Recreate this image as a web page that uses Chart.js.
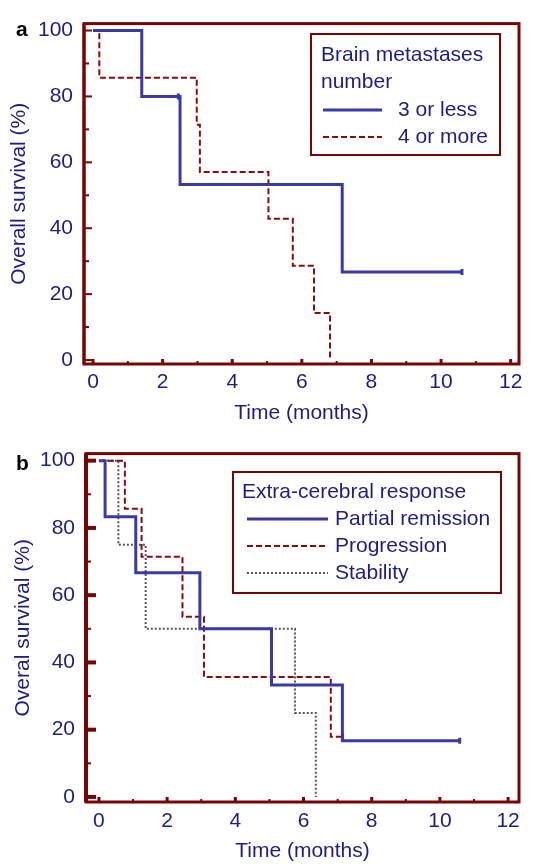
<!DOCTYPE html>
<html>
<head>
<meta charset="utf-8">
<script src="https://cdn.jsdelivr.net/npm/chart.js@4"></script>
<style>
  body { margin: 0; background: #fff; }
  .panel { position: absolute; left: 0; width: 545px; }
  #wrapA { top: 0; height: 430px; }
  #wrapB { top: 430px; height: 434px; }
  .tag { position: absolute; font: bold 21px "Liberation Sans", Arial, sans-serif; color: #000; }
</style>
</head>
<body>
<div class="panel" id="wrapA"><canvas id="chartA" width="545" height="430"></canvas></div>
<div class="panel" id="wrapB"><canvas id="chartB" width="545" height="434"></canvas></div>
<div class="tag" style="left:16px; top:17px;">a</div>
<div class="tag" style="left:16px; top:451px;">b</div>
<script>
// Panel a - brain metastases number
const timeA_low = [0, 1.4, 2.5, 7.16, 10.6];
const survA_low = [100, 80, 53.3, 26.7, 26.7];
const censorA_low = [[2.45, 80], [10.6, 26.7]];
const timeA_high = [0, 0.18, 2.98, 3.07, 5.04, 5.74, 6.35, 6.81];
const survA_high = [100, 85.7, 71.4, 57.1, 42.9, 28.6, 14.3, 0];

// Panel b - extra-cerebral response
const timeB_partial = [0, 0.18, 1.08, 2.96, 5.06, 7.14, 10.58];
const survB_partial = [100, 83.3, 66.7, 50, 33.3, 16.7, 16.7];
const censorB_partial = [[10.58, 16.7]];
const timeB_prog = [0, 0.76, 1.25, 2.45, 3.08, 6.8, 7.16];
const survB_prog = [100, 85.7, 71.4, 53.6, 35.7, 17.9, 17.9];
const censorB_prog = [[7.16, 17.9]];
const timeB_stab = [0, 0.57, 1.37, 5.75, 6.36];
const survB_stab = [100, 75, 50, 25, 0];

// axis ticks
const xTicks = [0, 2, 4, 6, 8, 10, 12];
const xMinor = [1, 3, 5, 7, 9, 11];
const yTicks = [0, 20, 40, 60, 80, 100];
const yMinor = [10, 30, 50, 70, 90];

const FONT = '"Liberation Sans", Arial, sans-serif';
const frameColor = '#760606';
const textBlue = '#1c1c8a';
const lineBlue = '#3a3aa6';
const lineRed = '#880c0c';
const lineGray = '#555555';

const pts = (t, s) => t.map((x, i) => ({ x: x, y: s[i] }));
const cpts = (c) => c.map(p => ({ x: p[0], y: p[1] }));

function kmLine(label, t, s, color, width, dash) {
    return {
        label: label, data: pts(t, s), stepped: 'before',
        borderColor: color, borderWidth: width, borderDash: dash,
        pointRadius: 0, fill: false
    };
}
function censor(c, color, width) {
    return {
        data: cpts(c), showLine: false, pointStyle: 'line', rotation: 90,
        pointRadius: 3, borderColor: color, borderWidth: width
    };
}

// frame, inward ticks and boxed legend
const framePlugin = {
    id: 'frameTicks',
    afterDatasetsDraw(chart, args, opts) {
        const { ctx, chartArea: a, scales: { x, y } } = chart;
        ctx.save();
        ctx.strokeStyle = frameColor;
        ctx.setLineDash([]);
        const tick = (vals, len, w, horiz) => {
            ctx.lineWidth = w;
            vals.forEach(v => {
                ctx.beginPath();
                if (horiz) {
                    const py = y.getPixelForValue(v);
                    ctx.moveTo(a.left, py); ctx.lineTo(a.left + len, py);
                } else {
                    const px = x.getPixelForValue(v);
                    ctx.moveTo(px, a.bottom); ctx.lineTo(px, a.bottom - len);
                }
                ctx.stroke();
            });
        };
        tick(yTicks, opts.yTickLen, opts.yTickW, true);
        tick(yMinor, 5, 2, true);
        tick(xTicks, 5, 3, false);
        tick(xMinor, 3, 2, false);
        ctx.lineWidth = 3;
        ctx.strokeRect(a.left, a.top, a.width, a.height);
        ctx.lineWidth = opts.leftW;
        ctx.beginPath();
        ctx.moveTo(a.left, a.top); ctx.lineTo(a.left, a.bottom);
        ctx.stroke();

        // legend
        const L = opts.legend;
        ctx.lineWidth = 2;
        ctx.strokeRect(L.box[0], L.box[1], L.box[2] - L.box[0], L.box[3] - L.box[1]);
        ctx.fillStyle = textBlue;
        ctx.font = '21px ' + FONT;
        ctx.textBaseline = 'middle';
        ctx.textAlign = 'left';
        L.title.forEach((t, i) => ctx.fillText(t, L.titleX, L.titleY[i]));
        const ds = chart.data.datasets;
        L.rows.forEach((r, i) => {
            const d = ds[i];
            ctx.strokeStyle = d.borderColor;
            ctx.lineWidth = d.borderWidth;
            ctx.setLineDash(d.borderDash || []);
            ctx.beginPath();
            ctx.moveTo(L.lineX[0], r); ctx.lineTo(L.lineX[1], r);
            ctx.stroke();
            ctx.fillText(d.label, L.textX, r);
        });
        ctx.restore();
    }
};

function makeChart(id, datasets, o) {
    const ctx = document.getElementById(id).getContext('2d');
    return new Chart(ctx, {
        type: 'line',
        data: { datasets: datasets },
        plugins: [framePlugin],
        options: {
            responsive: false,
            animation: false,
            layout: { padding: { top: o.padTop, right: o.padRight, left: 0, bottom: 0 } },
            plugins: {
                legend: { display: false },
                tooltip: { enabled: false },
                frameTicks: { legend: o.legend, yTickW: o.yTickW, yTickLen: o.yTickLen, leftW: o.leftW }
            },
            scales: {
                x: {
                    type: 'linear', min: o.xMin, max: o.xMax,
                    afterFit: s => { s.height = o.xHeight; },
                    grid: { display: false, drawTicks: false },
                    border: { display: false },
                    ticks: { stepSize: 2, includeBounds: false, padding: o.xPad, color: textBlue, font: { family: FONT, size: 21 } },
                    title: { display: true, text: 'Time (months)', color: textBlue, font: { family: FONT, size: 21 }, padding: { top: 0, bottom: o.xTitlePad } }
                },
                y: {
                    type: 'linear', min: o.yMin, max: o.yMax,
                    afterFit: s => { s.width = o.yWidth; },
                    grid: { display: false, drawTicks: false },
                    border: { display: false },
                    ticks: { stepSize: 20, includeBounds: false, padding: 11, color: textBlue, font: { family: FONT, size: 21 } },
                    title: { display: true, text: o.yTitle, color: textBlue, font: { family: FONT, size: 21 }, padding: { top: o.yTitlePad, bottom: 0 } }
                }
            }
        }
    });
}

makeChart('chartA', [
    kmLine('3 or less', timeA_low, survA_low, lineBlue, 3, []),
    kmLine('4 or more', timeA_high, survA_high, lineRed, 2, [6, 3]),
    censor(censorA_low, lineBlue, 3)
], {
    padTop: 17, padRight: 26, xHeight: 66, yWidth: 84,
    xMin: -0.26, xMax: 12.24, yMin: -1.2, yMax: 102.1,
    xPad: 6, xTitlePad: 4, yTitlePad: 7, yTickW: 2, yTickLen: 8, leftW: 3,
    yTitle: 'Overall survival (%)',
    legend: {
        box: [311, 34, 500, 155],
        title: ['Brain metastases', 'number'], titleX: 321, titleY: [55, 82],
        rows: [110, 137], lineX: [323, 382], textX: 398
    }
});

makeChart('chartB', [
    kmLine('Partial remission', timeB_partial, survB_partial, lineBlue, 3, []),
    kmLine('Progression', timeB_prog, survB_prog, lineRed, 2, [6, 3]),
    kmLine('Stability', timeB_stab, survB_stab, lineGray, 2, [2, 2]),
    censor(censorB_partial, lineBlue, 3),
    censor(censorB_prog, lineRed, 2)
], {
    padTop: 23, padRight: 26, xHeight: 62, yWidth: 86,
    xMin: -0.38, xMax: 12.32, yMin: -1.5, yMax: 102.1,
    xPad: 7, xTitlePad: 0, yTitlePad: 11, yTickW: 4, yTickLen: 10, leftW: 4,
    yTitle: 'Overal survival (%)',
    legend: {
        box: [233, 42, 501, 163],
        title: ['Extra-cerebral response'], titleX: 242, titleY: [62],
        rows: [89, 116, 143], lineX: [247, 328], textX: 335
    }
});
</script>
</body>
</html>
